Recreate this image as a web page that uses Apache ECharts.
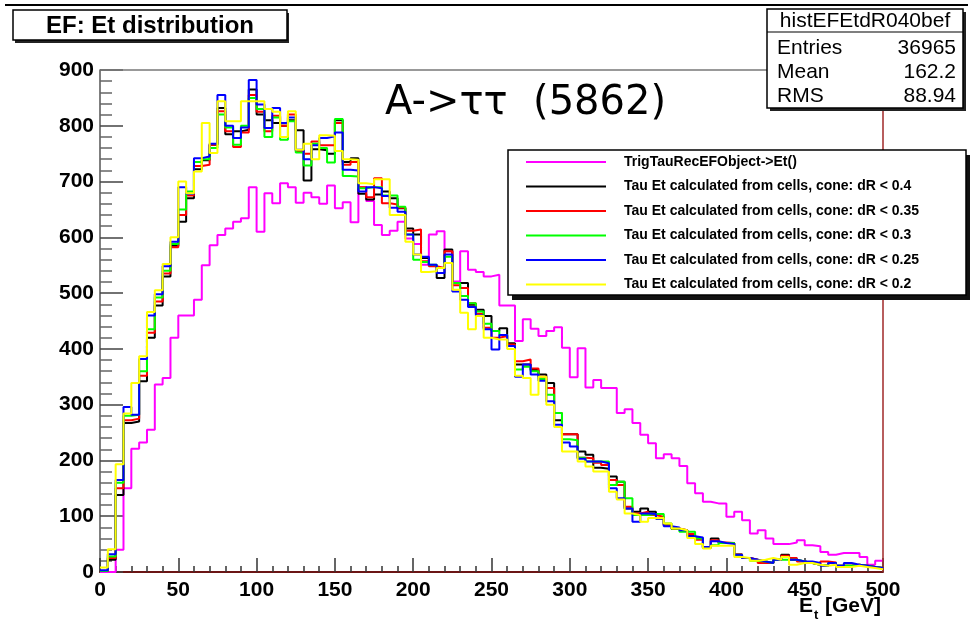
<!DOCTYPE html>
<html>
<head>
<meta charset="utf-8">
<script src="https://cdn.jsdelivr.net/npm/echarts/dist/echarts.min.js"></script>
<style>
  html, body { margin: 0; padding: 0; background: #fff; }
  #chart { width: 971px; height: 627px; }
</style>
</head>
<body>
<div id="chart"></div>
<script>
// ---------------- data ----------------
const binWidth = 5;          // GeV per bin, 100 bins over 0..500
const seriesNames = [
  'TrigTauRecEFObject->Et()',
  'Tau Et calculated from cells, cone: dR < 0.4',
  'Tau Et calculated from cells, cone: dR < 0.35',
  'Tau Et calculated from cells, cone: dR < 0.3',
  'Tau Et calculated from cells, cone: dR < 0.25',
  'Tau Et calculated from cells, cone: dR < 0.2'
];
const seriesColors = ['#ff00ff', '#000000', '#ff0000', '#00ff00', '#0000ff', '#ffff00'];

const efObject = [
  0,0,40,150,221,232,255,336,348,420,
  460,460,488,550,586,604,616,628,634,690,
  610,679,661,697,690,662,680,672,660,693,
  652,663,627,690,665,622,604,612,628,598,
  588,551,605,611,575,521,575,542,538,530,
  533,478,478,414,453,436,423,432,439,402,
  349,401,331,344,330,330,285,292,267,246,
  231,204,211,204,190,159,141,126,123,123,
  99,108,93,69,75,60,50,50,53,57,
  48,46,36,31,34,34,34,27,13,20
];
const coneR040 = [
  2,22,138,267,270,342,420,478,530,585,
  628,670,722,738,766,832,785,790,793,865,
  820,810,805,800,810,792,702,758,756,750,
  810,735,742,678,668,677,682,670,652,616,
  605,563,550,527,578,518,518,479,470,459,
  432,437,410,372,372,362,354,339,272,247,
  247,216,210,187,185,171,162,114,108,114,
  108,96,84,77,75,66,60,43,60,52,
  52,31,25,22,19,16,22,31,22,19,
  16,13,11,16,11,11,13,11,9,7
];
const coneR035 = [
  2,25,150,272,275,352,429,485,535,582,
  640,675,728,730,766,826,790,762,788,855,
  825,790,818,800,820,755,750,772,765,765,
  805,730,735,690,672,706,661,659,653,612,
  614,557,548,545,575,514,509,482,463,438,
  420,423,408,378,381,365,350,330,285,247,
  247,205,204,196,192,165,156,117,105,108,
  102,99,84,78,75,68,58,45,57,53,
  52,32,25,22,16,16,22,29,25,19,
  16,13,19,17,11,11,13,11,9,7
];
const coneR030 = [
  2,28,160,280,282,360,435,492,540,588,
  650,682,735,740,760,820,797,766,800,850,
  830,780,815,775,808,752,729,768,760,734,
  812,710,709,688,690,690,675,675,655,605,
  560,556,551,545,565,518,495,482,467,445,
  432,425,405,363,368,360,346,318,285,238,
  236,205,198,198,198,156,162,132,102,102,
  104,104,87,78,72,72,60,43,48,52,
  52,31,25,20,19,16,22,22,22,19,
  16,13,11,16,11,11,13,11,9,7
];
const coneR025 = [
  3,32,165,296,282,382,460,498,548,592,
  690,678,742,745,768,855,800,778,797,882,
  838,796,832,805,815,757,740,765,778,781,
  788,721,720,682,690,688,674,653,646,605,
  569,565,551,536,569,503,488,475,460,435,
  399,425,405,350,372,354,343,306,264,232,
  225,203,198,198,195,150,132,114,90,105,
  104,96,82,80,75,64,62,45,55,52,
  50,31,25,22,19,16,22,27,22,19,
  19,16,11,16,11,16,13,11,9,7
];
const coneR020 = [
  8,41,193,284,339,387,466,505,552,600,
  700,679,718,805,751,844,808,808,844,844,
  844,830,825,780,826,757,768,740,783,782,
  755,740,739,697,695,704,704,640,640,592,
  569,538,539,545,554,506,465,435,459,420,
  417,417,400,352,348,318,350,300,260,216,
  216,198,189,180,180,144,130,105,102,90,
  97,97,87,78,75,61,50,42,47,47,
  47,27,25,20,22,25,22,27,13,16,
  16,13,11,13,9,9,11,9,7,5
];
const seriesValues = [efObject, coneR040, coneR035, coneR030, coneR025, coneR020];

const titleText = 'EF: Et distribution';
const annotationText = 'A->\u03c4\u03c4  (5862)';
const statsTitle = 'histEFEtdR040bef';
const statsRows = [['Entries', '36965'], ['Mean', '162.2'], ['RMS', '88.94']];

// ---------------- chart ----------------
function histData(vals) {
  const d = vals.map((v, i) => [i * binWidth, v]);
  d.push([vals.length * binWidth, vals[vals.length - 1]]);
  return d;
}

const chart = echarts.init(document.getElementById('chart'), null, { renderer: 'canvas' });

const labelFont = { color: '#000', fontFamily: 'Liberation Sans', fontWeight: 'bold', fontSize: 21 };

const graphics = [
  { type: 'line', z: 50, shape: { x1: 5, y1: 5, x2: 968, y2: 5 }, style: { stroke: '#000', lineWidth: 2 } },
  { type: 'line', z: 3, shape: { x1: 100, y1: 70, x2: 883, y2: 70 }, style: { stroke: '#777', lineWidth: 1.5 } },
  { type: 'line', z: 3, shape: { x1: 883, y1: 70, x2: 883, y2: 572 }, style: { stroke: '#a02828', lineWidth: 1.5 } },
  // title box
  { type: 'rect', z: 50, shape: { x: 15, y: 13, width: 274, height: 30 }, style: { fill: '#222' } },
  { type: 'rect', z: 51, shape: { x: 13, y: 10, width: 274, height: 30 }, style: { fill: '#fff', stroke: '#000', lineWidth: 1.5 } },
  { type: 'text', z: 52, x: 150, y: 26, style: { text: titleText, fill: '#000', font: 'bold 24px "Liberation Sans"', align: 'center', verticalAlign: 'middle' } },
  // stats box
  { type: 'rect', z: 50, shape: { x: 770, y: 12, width: 196, height: 99 }, style: { fill: '#222' } },
  { type: 'rect', z: 51, shape: { x: 767, y: 9, width: 196, height: 99 }, style: { fill: '#fff', stroke: '#000', lineWidth: 1.5 } },
  { type: 'line', z: 52, shape: { x1: 767, y1: 32, x2: 963, y2: 32 }, style: { stroke: '#000', lineWidth: 1.2 } },
  { type: 'text', z: 52, x: 865, y: 21, style: { text: statsTitle, fill: '#000', font: '21px "Liberation Sans"', align: 'center', verticalAlign: 'middle' } },
  // legend box
  { type: 'rect', z: 50, shape: { x: 512, y: 155, width: 458, height: 145 }, style: { fill: '#111' } },
  { type: 'rect', z: 51, shape: { x: 508, y: 150, width: 458, height: 145 }, style: { fill: '#fff', stroke: '#000', lineWidth: 1.5 } },
  // annotation
  { type: 'text', z: 52, x: 385, y: 104, style: { text: annotationText, fill: '#000', font: '40px "DejaVu Sans"', align: 'left', verticalAlign: 'middle' } },
  // axis title  E_t [GeV]
  { type: 'text', z: 52, x: 799, y: 606, style: { text: 'E', fill: '#000', font: 'bold 21px "Liberation Sans"', align: 'left', verticalAlign: 'middle' } },
  { type: 'text', z: 52, x: 814, y: 615, style: { text: 't', fill: '#000', font: 'bold 13px "Liberation Sans"', align: 'left', verticalAlign: 'middle' } },
  { type: 'text', z: 52, x: 825, y: 606, style: { text: '[GeV]', fill: '#000', font: 'bold 21px "Liberation Sans"', align: 'left', verticalAlign: 'middle' } }
];
statsRows.forEach((row, k) => {
  const y = 48 + k * 24;
  graphics.push({ type: 'text', z: 52, x: 777, y: y, style: { text: row[0], fill: '#000', font: '21px "Liberation Sans"', align: 'left', verticalAlign: 'middle' } });
  graphics.push({ type: 'text', z: 52, x: 956, y: y, style: { text: row[1], fill: '#000', font: '21px "Liberation Sans"', align: 'right', verticalAlign: 'middle' } });
});

const option = {
  animation: false,
  backgroundColor: '#ffffff',
  grid: { left: 100, top: 70, width: 783, height: 502, containLabel: false },
  xAxis: {
    type: 'value', min: 0, max: 500, interval: 50,
    axisLine: { show: true, onZero: false, lineStyle: { color: '#6b1515', width: 2 } },
    axisTick: { show: true, inside: true, length: 14, lineStyle: { color: '#333', width: 1.5 } },
    minorTick: { show: true, splitNumber: 5, length: 6, lineStyle: { color: '#333', width: 1.5 } },
    splitLine: { show: false },
    minorSplitLine: { show: false },
    axisLabel: Object.assign({ margin: 8 }, labelFont)
  },
  yAxis: {
    type: 'value', min: 0, max: 900, interval: 100,
    axisLine: { show: true, lineStyle: { color: '#555', width: 1.5 } },
    axisTick: { show: true, inside: true, length: 23, lineStyle: { color: '#444', width: 1.5 } },
    minorTick: { show: true, splitNumber: 5, length: 12, lineStyle: { color: '#666', width: 1.5 } },
    splitLine: { show: false },
    minorSplitLine: { show: false },
    axisLabel: Object.assign({ margin: 6 }, labelFont)
  },
  legend: {
    orient: 'vertical', left: 520, top: 150, z: 60, padding: 5,
    itemWidth: 80, itemHeight: 14, itemGap: 10.5,
    selectedMode: false,
    itemStyle: { opacity: 0, color: 'rgba(0,0,0,0)', borderWidth: 0 },
    lineStyle: { width: 2 },
    textStyle: { fontFamily: 'Liberation Sans', fontWeight: 'bold', fontSize: 14, color: '#000', padding: [0, 0, 0, 13] },
    data: seriesNames
  },
  series: seriesValues.map((vals, k) => ({
    name: seriesNames[k],
    type: 'line',
    step: 'end',
    data: histData(vals),
    symbol: 'none',
    showSymbol: false,
    clip: true,
    z: 2 + k,
    lineStyle: { color: seriesColors[k], width: 2 },
    itemStyle: { color: seriesColors[k] }
  })),
  graphic: graphics
};
chart.setOption(option);
</script>
</body>
</html>
